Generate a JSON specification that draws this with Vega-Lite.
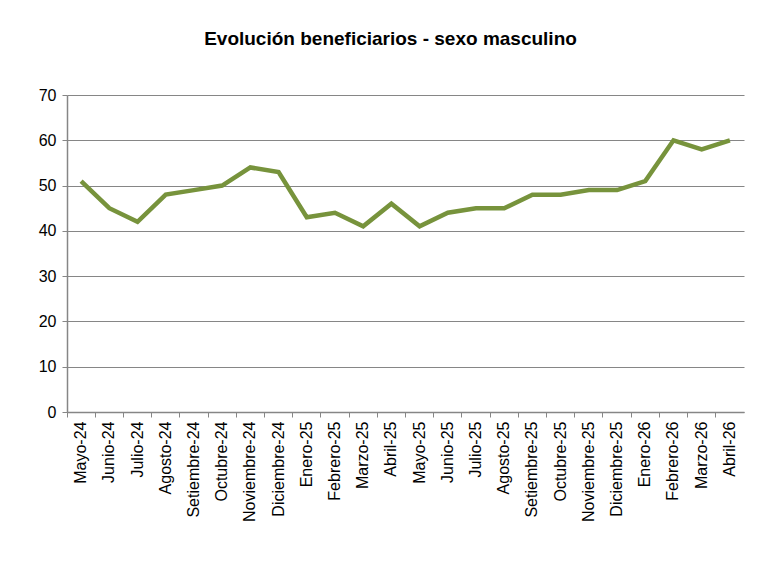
{
  "$schema": "https://vega.github.io/schema/vega-lite/v6.json",
  "autosize": {"type": "none"},
  "width": 677,
  "height": 317,
  "padding": {"left": 67, "top": 95, "right": 16, "bottom": 152},
  "background": "white",
  "title": {
    "text": "Evolución beneficiarios - sexo masculino",
    "font": "Liberation Sans",
    "fontSize": 19,
    "fontWeight": "bold",
    "color": "black",
    "anchor": "middle",
    "dx": -15,
    "offset": 38
  },
  "config": {
    "view": {"stroke": null},
    "font": "Liberation Sans"
  },
  "data": {
    "values": [
      {"mes": "Mayo-24", "valor": 51},
      {"mes": "Junio-24", "valor": 45},
      {"mes": "Julio-24", "valor": 42},
      {"mes": "Agosto-24", "valor": 48},
      {"mes": "Setiembre-24", "valor": 49},
      {"mes": "Octubre-24", "valor": 50},
      {"mes": "Noviembre-24", "valor": 54},
      {"mes": "Diciembre-24", "valor": 53},
      {"mes": "Enero-25", "valor": 43},
      {"mes": "Febrero-25", "valor": 44},
      {"mes": "Marzo-25", "valor": 41},
      {"mes": "Abril-25", "valor": 46},
      {"mes": "Mayo-25", "valor": 41},
      {"mes": "Junio-25", "valor": 44},
      {"mes": "Julio-25", "valor": 45},
      {"mes": "Agosto-25", "valor": 45},
      {"mes": "Setiembre-25", "valor": 48},
      {"mes": "Octubre-25", "valor": 48},
      {"mes": "Noviembre-25", "valor": 49},
      {"mes": "Diciembre-25", "valor": 49},
      {"mes": "Enero-26", "valor": 51},
      {"mes": "Febrero-26", "valor": 60},
      {"mes": "Marzo-26", "valor": 58},
      {"mes": "Abril-26", "valor": 60}
    ]
  },
  "layer": [
    {
      "mark": {"type": "tick", "opacity": 0},
      "encoding": {
        "x": {
          "field": "mes", "type": "ordinal", "sort": null,
          "scale": {"paddingInner": 0, "paddingOuter": 0},
          "axis": {
            "orient": "bottom",
            "title": null,
            "labels": false,
            "domain": false,
            "ticks": true,
            "tickSize": 5,
            "tickColor": "#868686",
            "tickWidth": 1,
            "bandPosition": 0,
            "grid": false
          }
        },
        "y": {"field": "valor", "type": "quantitative"}
      }
    },
    {
      "mark": {"type": "line", "color": "#77933C", "strokeWidth": 4.5, "strokeJoin": "miter"},
      "encoding": {
        "x": {
          "field": "mes", "type": "ordinal", "sort": null,
          "scale": {"paddingInner": 0, "paddingOuter": 0},
          "axis": {
            "orient": "bottom",
            "title": null,
            "labelAngle": -90,
            "labelFontSize": 16,
            "labelColor": "black",
            "labelPadding": 9,
            "ticks": false,
            "domain": true,
            "domainColor": "#868686",
            "domainWidth": 1.5,
            "grid": false
          }
        },
        "y": {
          "field": "valor", "type": "quantitative",
          "scale": {"domain": [0, 70]},
          "axis": {
            "title": null,
            "values": [0, 10, 20, 30, 40, 50, 60, 70],
            "labelFontSize": 16,
            "labelColor": "black",
            "labelPadding": 6,
            "tickSize": 5,
            "tickColor": "#868686",
            "domainColor": "#868686",
            "domainWidth": 1.5,
            "gridColor": "#868686",
            "gridWidth": 1.2
          }
        }
      }
    }
  ],
  "resolve": {"axis": {"x": "independent", "y": "shared"}}
}
